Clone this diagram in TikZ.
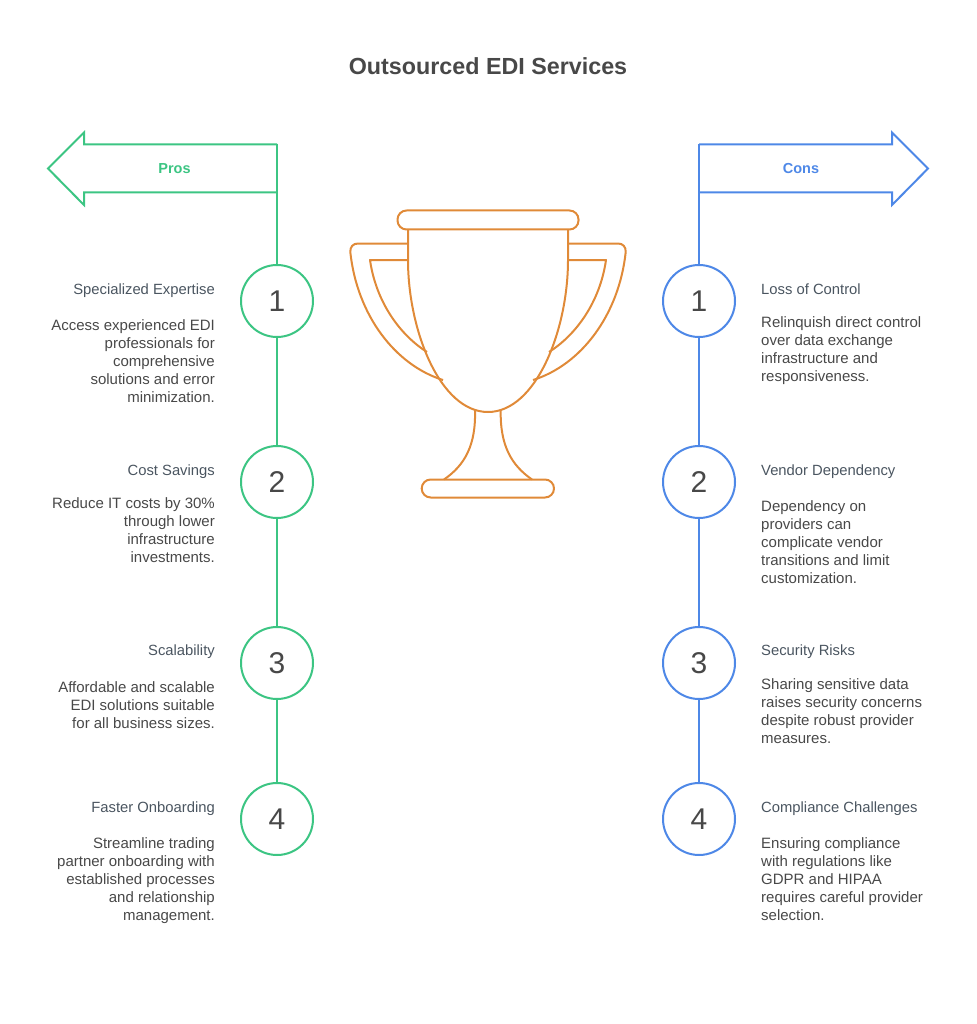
\documentclass[tikz,border=0pt]{standalone}
\usepackage{fontspec}
\setmainfont{Liberation Sans}
\definecolor{pro}{HTML}{3CC583}
\definecolor{con}{HTML}{4E88E7}
\definecolor{cup}{HTML}{E08A38}
\definecolor{ink}{HTML}{484848}
\definecolor{slate}{HTML}{4A5560}
\tikzset{
  x=1pt,y=-1pt,
  numc/.style={circle,draw,line width=2pt,fill=white,minimum size=72pt,inner sep=0pt,text=ink,font=\fontsize{30}{30}\selectfont},
  lhead/.style={anchor=base east,inner sep=0pt,text=slate,font=\fontsize{14.8}{18}\selectfont},
  rhead/.style={anchor=base west,inner sep=0pt,text=slate,font=\fontsize{14.8}{18}\selectfont},
  lbody/.style={anchor=north east,inner sep=0pt,align=right,text=ink,font=\fontsize{15}{18}\selectfont},
  rbody/.style={anchor=north west,inner sep=0pt,align=left,text=ink,font=\fontsize{15}{18}\selectfont},
  tag/.style={inner sep=0pt,font=\fontsize{14.5}{18}\selectfont\bfseries},
  wire/.style={line width=2pt},
  cupline/.style={draw=cup,line width=2pt,line join=round}
}
\begin{document}
\begin{tikzpicture}
\useasboundingbox (0,0) rectangle (976,1024);
\node[anchor=base,inner sep=0pt,text=ink,font=\fontsize{23.3}{28}\selectfont\bfseries] (title) at (488,75) {Outsourced EDI Services};
% arrows
\coordinate (pa) at (277,144.5);
\coordinate (ca) at (699,144.5);
\draw[pro,wire,line join=miter] (pa) -- (84,144.5) -- (84,132.5) -- (48,168.5) -- (84,205) -- (84,192.5) -- (277,192.5);
\draw[con,wire,line join=miter] (ca) -- (892,144.5) -- (892,132.5) -- (928,168.5) -- (892,205) -- (892,192.5) -- (699,192.5);
\node[tag,text=pro] (ptag) at (174.5,169) {Pros};
\node[tag,text=con] (ctag) at (801,169) {Cons};
% circles
\node[numc,draw=pro] (p1) at (277,301) {1};
\node[numc,draw=pro] (p2) at (277,482) {2};
\node[numc,draw=pro] (p3) at (277,663) {3};
\node[numc,draw=pro] (p4) at (277,819) {4};
\node[numc,draw=con] (c1) at (699,301) {1};
\node[numc,draw=con] (c2) at (699,482) {2};
\node[numc,draw=con] (c3) at (699,663) {3};
\node[numc,draw=con] (c4) at (699,819) {4};
\draw[pro,wire] (pa) -- (p1);
\draw[pro,wire] (p1) -- (p2);
\draw[pro,wire] (p2) -- (p3);
\draw[pro,wire] (p3) -- (p4);
\draw[con,wire] (ca) -- (c1);
\draw[con,wire] (c1) -- (c2);
\draw[con,wire] (c2) -- (c3);
\draw[con,wire] (c3) -- (c4);
% left texts
\node[lhead] (ph1) at (215,294) {Specialized Expertise};
\node[lbody] (pb1) at (215,317.4) {\strut Access experienced EDI\\professionals for\\comprehensive\\solutions and error\\minimization.};
\node[lhead] (ph2) at (215,475) {Cost Savings};
\node[lbody] (pb2) at (215,495.4) {\strut Reduce IT costs by 30\%\\through lower\\infrastructure\\investments.};
\node[lhead] (ph3) at (215,655) {Scalability};
\node[lbody] (pb3) at (215,679.4) {\strut Affordable and scalable\\EDI solutions suitable\\for all business sizes.};
\node[lhead] (ph4) at (215,812) {Faster Onboarding};
\node[lbody] (pb4) at (215,835.4) {\strut Streamline trading\\partner onboarding with\\established processes\\and relationship\\management.};
% right texts
\node[rhead] (ch1) at (761,294) {Loss of Control};
\node[rbody] (cb1) at (761,314.4) {\strut Relinquish direct control\\over data exchange\\infrastructure and\\responsiveness.};
\node[rhead] (ch2) at (761,475) {Vendor Dependency};
\node[rbody] (cb2) at (761,498.4) {\strut Dependency on\\providers can\\complicate vendor\\transitions and limit\\customization.};
\node[rhead] (ch3) at (761,655) {Security Risks};
\node[rbody] (cb3) at (761,676.4) {\strut Sharing sensitive data\\raises security concerns\\despite robust provider\\measures.};
\node[rhead] (ch4) at (761,812) {Compliance Challenges};
\node[rbody] (cb4) at (761,835.4) {\strut Ensuring compliance\\with regulations like\\GDPR and HIPAA\\requires careful provider\\selection.};
% trophy
\draw[cupline] (408,243.5) -- (358,243.5) .. controls (353,243.5) and (350,247) .. (350.3,252) .. controls (357,315) and (395,365) .. (443,380);
\draw[cupline] (408,260) -- (370,260) .. controls (376,302) and (400,335) .. (427,352);
\draw[cupline] (568,243.5) -- (618,243.5) .. controls (623,243.5) and (626,247) .. (625.7,252) .. controls (619,315) and (581,365) .. (533,380);
\draw[cupline] (568,260) -- (606,260) .. controls (600,302) and (576,335) .. (549,352);
\draw[cupline] (475,410) .. controls (476,445) and (465,465) .. (444,479.5);
\draw[cupline] (500.7,410) .. controls (500,445) and (511,465) .. (532,479.5);
\draw[cupline] (408,229.5) -- (408,260) .. controls (408,330) and (440,412) .. (488,412) .. controls (536,412) and (568,330) .. (568,260) -- (568,229.5);
\draw[cupline,rounded corners=9pt] (397.5,210.5) rectangle (578.5,229.5);
\draw[cupline,rounded corners=9pt] (421.7,479.5) rectangle (554,497.5);
\end{tikzpicture}
\end{document}
